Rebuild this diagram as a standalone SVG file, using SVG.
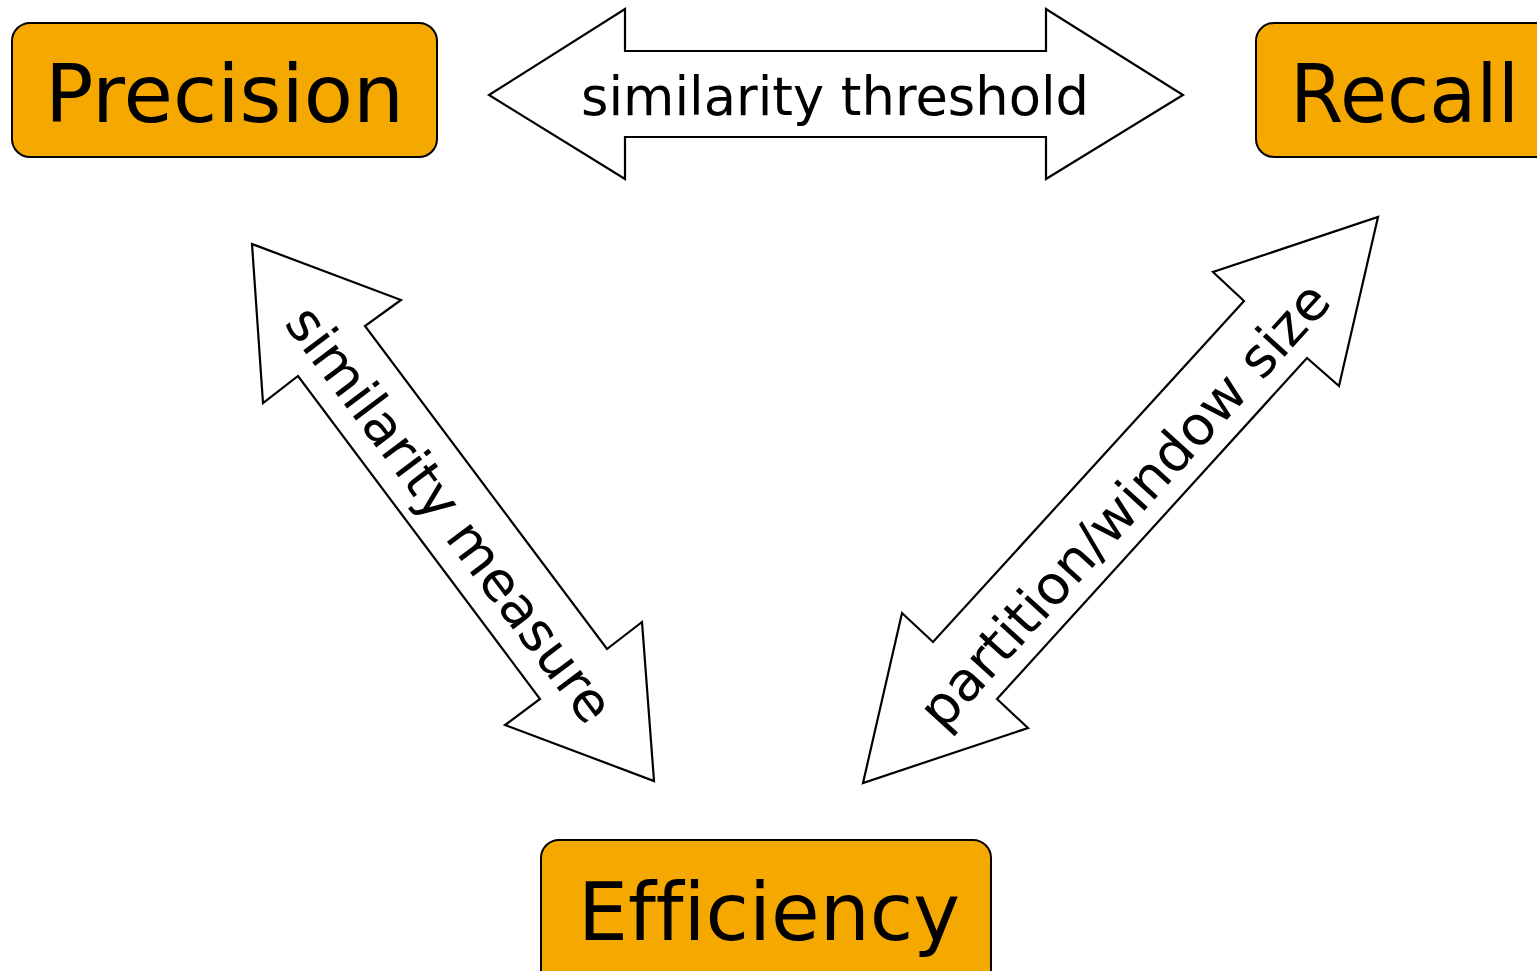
<svg xmlns="http://www.w3.org/2000/svg" width="1537" height="971" viewBox="0 0 1537 971">
  <style>
    .box { fill: #F5A800; stroke: #000; stroke-width: 2; }
    .big { font-family: "DejaVu Sans", "Liberation Sans", sans-serif; font-size: 81px; fill: #000; font-variant-ligatures: none; }
    .arrow { fill: #fff; stroke: #000; stroke-width: 2.2; stroke-linejoin: miter; }
    .lbl { font-family: "DejaVu Sans", "Liberation Sans", sans-serif; font-size: 54px; fill: #000; text-anchor: middle; font-variant-ligatures: none; }
  </style>
  <rect width="1537" height="971" fill="#fff"/>

  <g id="connectors">
    <!-- Precision <-> Recall -->
    <g id="arrow-threshold">
      <polygon class="arrow" points="489,95 625,9 625,51 1046,51 1046,9 1183,95 1046,179 1046,137 625,137 625,179"/>
      <text class="lbl" x="835" y="115" textLength="508" lengthAdjust="spacingAndGlyphs">similarity threshold</text>
    </g>
    <!-- Precision <-> Efficiency -->
    <g id="arrow-measure">
      <polygon class="arrow" points="252,244 401,300 365,326 607,649 642,622 654,781 505,725 540,699 298,376 263,403"/>
      <text class="lbl" transform="translate(450,514) rotate(53.1)" x="0" y="19" textLength="505" lengthAdjust="spacingAndGlyphs">similarity measure</text>
    </g>
    <!-- Recall <-> Efficiency -->
    <g id="arrow-partition">
      <polygon class="arrow" points="1378,217 1339,386 1307,358 997,699 1028,728 863,783 902,613 933,642 1244,301 1213,272"/>
      <text class="lbl" transform="translate(1124,505) rotate(-47.7)" x="0" y="19" textLength="580" lengthAdjust="spacingAndGlyphs">partition/window size</text>
    </g>
  </g>

  <g id="precision">
    <rect class="box" x="12" y="23" width="425" height="134" rx="18"/>
    <text class="big" x="45" y="122" textLength="359" lengthAdjust="spacingAndGlyphs">Precision</text>
  </g>

  <g id="recall">
    <rect class="box" x="1256" y="23" width="300" height="134" rx="18"/>
    <text class="big" x="1290" y="122" textLength="229" lengthAdjust="spacingAndGlyphs">Recall</text>
  </g>

  <g id="efficiency">
    <rect class="box" x="541" y="840" width="450" height="160" rx="18"/>
    <text class="big" x="578" y="940" textLength="382" lengthAdjust="spacingAndGlyphs">Efficiency</text>
  </g>
</svg>
